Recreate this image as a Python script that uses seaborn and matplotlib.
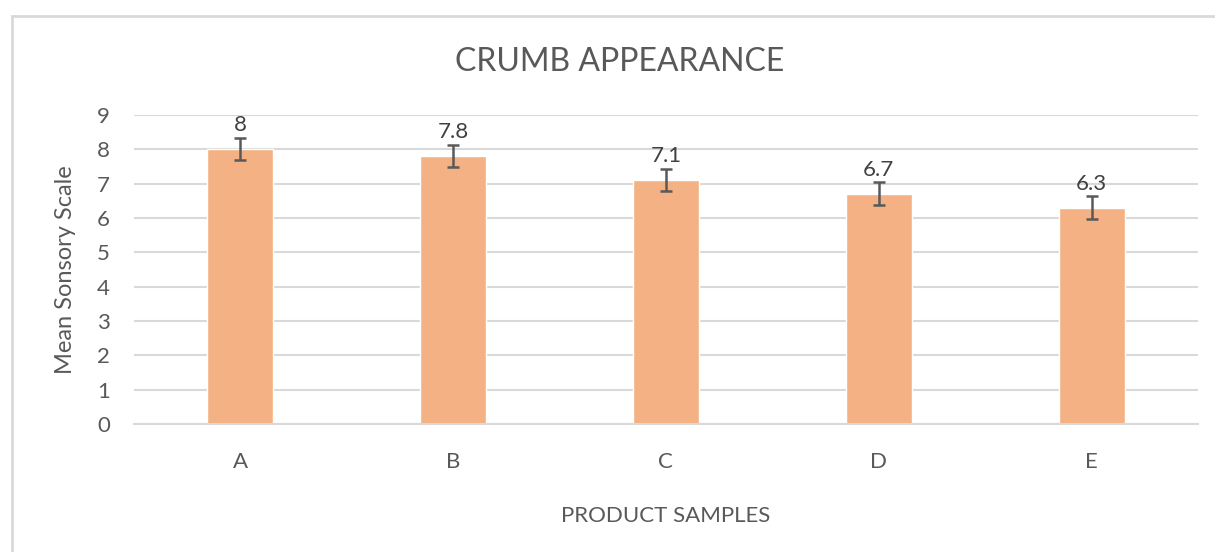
import matplotlib
matplotlib.use('Agg')

import pandas as pd
import seaborn as sns
import matplotlib.pyplot as plt
from matplotlib.patches import Rectangle

# chart data
samples = ['A', 'B', 'C', 'D', 'E']
mean_scores = [8, 7.8, 7.1, 6.7, 6.3]
score_errors = [0.33, 0.33, 0.33, 0.33, 0.33]
y_ticks = [0, 1, 2, 3, 4, 5, 6, 7, 8, 9]

BAR_COLOR = '#F4B183'
TEXT_COLOR = '#595959'
GRID_COLOR = '#D9D9D9'


def crumb_plot():
    df = pd.DataFrame({'sample': samples, 'score': mean_scores})

    sns.set_style('white')
    plt.rcParams['font.family'] = ['Lato', 'DejaVu Sans']

    fig = plt.figure(figsize=(12.15, 5.52), dpi=100)
    ax = fig.add_axes([0.110, 0.232, 0.876, 0.560])

    sns.barplot(data=df, x='sample', y='score', color=BAR_COLOR,
                saturation=1, width=0.31, ax=ax, zorder=2)
    ax.errorbar(range(len(samples)), mean_scores, yerr=score_errors,
                fmt='none', ecolor='#595959', elinewidth=1.8, capsize=4.5,
                capthick=1.8, zorder=3)

    for i, v in enumerate(mean_scores):
        ax.text(i, v + 0.40, '{:g}'.format(v),
                ha='center', va='bottom', fontsize=16, color='#404040')

    ax.set_ylim(0, 9)
    ax.set_xlim(-0.5, len(samples) - 0.5)
    ax.set_yticks(y_ticks)
    ax.yaxis.grid(True, color=GRID_COLOR, linewidth=1.5, zorder=0)
    ax.set_axisbelow(True)
    for s in ['top', 'right', 'left']:
        ax.spines[s].set_visible(False)
    ax.spines['bottom'].set_color(GRID_COLOR)
    ax.spines['bottom'].set_linewidth(1.5)
    ax.tick_params(axis='both', length=0, labelsize=16, colors=TEXT_COLOR)
    ax.tick_params(axis='y', pad=17)
    ax.tick_params(axis='x', pad=20)

    ax.set_xlabel('PRODUCT SAMPLES', fontsize=16, color=TEXT_COLOR, labelpad=25)
    ax.set_ylabel('Mean Sonsory Scale', fontsize=17, color=TEXT_COLOR, labelpad=15)
    # title is centred on the whole chart frame, not the plot area
    fig.text(620 / 1215, 1 - 62 / 552, 'CRUMB APPEARANCE', fontsize=23,
             color=TEXT_COLOR, ha='center', va='center')

    # chart frame
    fig.patches.append(Rectangle((12 / 1215, -0.05), 1.1, 1 - 16 / 552 + 0.05,
                                 transform=fig.transFigure, fill=False,
                                 edgecolor=GRID_COLOR, linewidth=2))

    fig.savefig('out.png', dpi=100)


if __name__ == '__main__':
    crumb_plot()
